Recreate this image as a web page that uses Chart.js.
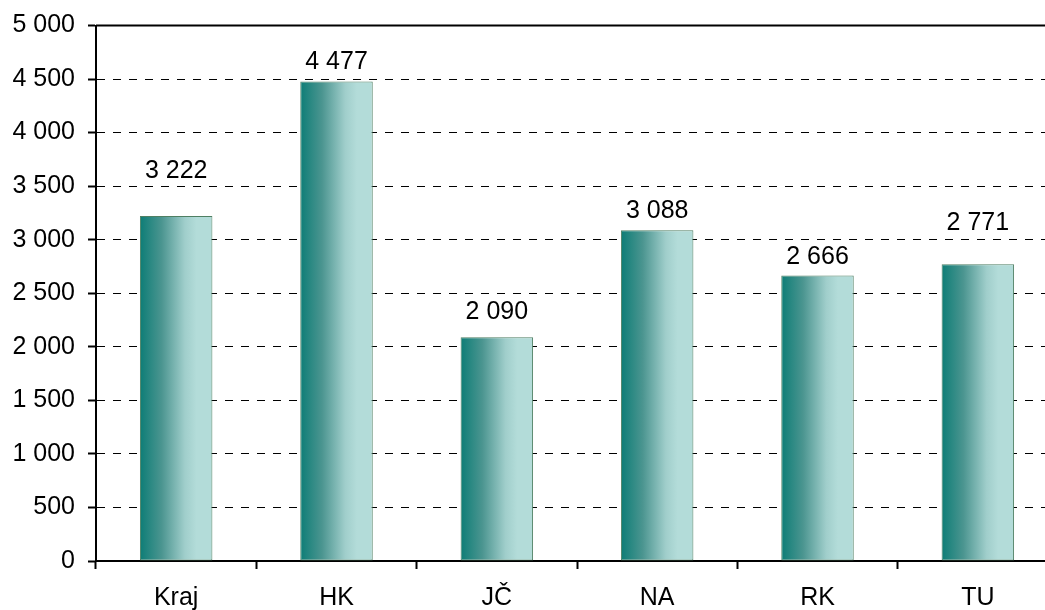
<!DOCTYPE html>
<html lang="cs">
<head>
  <meta charset="UTF-8">
  <title>Kraj a okresy</title>
  <script src="https://cdn.jsdelivr.net/npm/chart.js"></script>
  <style>
    html, body {
      margin: 0;
      padding: 0;
      background: #fff;
      overflow: hidden;
    }
    #wrap {
      width: 1062px;
      height: 610px;
    }
  </style>
</head>
<body>
  <div id="wrap">
    <canvas id="chart"></canvas>
  </div>

  <script>
    // data
    const categories = ['Kraj', 'HK', 'JČ', 'NA', 'RK', 'TU'];
    const values = [3222, 4477, 2090, 3088, 2666, 2771];
    const yTicks = [0, 500, 1000, 1500, 2000, 2500, 3000, 3500, 4000, 4500, 5000];

    // how far each value label sits above its bar (px), labels were placed by hand in the original
    const labelLift = [45, 19, 25, 19, 18, 41];

    const fmt = v => String(v).replace(/\B(?=(\d{3})+(?!\d))/g, ' ');
    const FONT = "'Liberation Sans', Arial, sans-serif";
    const BAR_PCT = 0.452;

    function barGradient(ctx) {
      const chart = ctx.chart;
      const x = chart.scales.x;
      if (!x || !chart.chartArea) return '#5a9e9a';
      const cx = x.getPixelForValue(ctx.dataIndex);
      const half = (chart.chartArea.right - chart.chartArea.left) / categories.length * BAR_PCT / 2;
      const g = chart.ctx.createLinearGradient(cx - half, 0, cx + half, 0);
      g.addColorStop(0, '#0d7d76');
      g.addColorStop(0.3, '#4b9590');
      g.addColorStop(0.62, '#a0cecb');
      g.addColorStop(0.78, '#b3dcd9');
      g.addColorStop(1, '#b3dcd9');
      return g;
    }

    const extras = {
      id: 'extras',
      afterDatasetsDraw(chart) {
        const c = chart.ctx;
        const area = chart.chartArea;
        // solid line at the top value
        const yTop = chart.scales.y.getPixelForValue(5000);
        c.save();
        c.strokeStyle = '#000';
        c.lineWidth = 2;
        c.beginPath();
        c.moveTo(area.left, yTop);
        c.lineTo(area.right, yTop);
        c.stroke();

        // value labels
        c.fillStyle = '#000';
        c.font = '25px ' + FONT;
        c.textAlign = 'center';
        c.textBaseline = 'middle';
        chart.getDatasetMeta(0).data.forEach((bar, i) => {
          c.fillText(fmt(values[i]), bar.x, bar.y - labelLift[i]);
        });
        c.restore();
      }
    };

    new Chart(document.getElementById('chart'), {
      type: 'bar',
      data: {
        labels: categories,
        datasets: [{
          data: values,
          backgroundColor: barGradient,
          borderColor: '#4f7f63',
          borderWidth: 1,
          borderSkipped: false,
          categoryPercentage: 1,
          barPercentage: BAR_PCT
        }]
      },
      options: {
        responsive: true,
        maintainAspectRatio: false,
        animation: false,
        layout: {
          padding: { top: 0, right: 4, left: 0, bottom: 0 }
        },
        plugins: {
          legend: { display: false },
          tooltip: { enabled: false }
        },
        scales: {
          x: {
            afterFit: s => { s.height = 49; },
            grid: {
              offset: true,
              drawOnChartArea: false,
              drawTicks: true,
              tickLength: 8,
              tickColor: '#000',
              tickWidth: 2
            },
            border: { color: '#000', width: 2 },
            ticks: {
              color: '#000',
              padding: 14,
              font: { family: FONT, size: 25 }
            }
          },
          y: {
            min: 0,
            max: 5000,
            afterFit: s => { s.width = 96; },
            afterBuildTicks: axis => {
              axis.ticks = yTicks.map(v => ({ value: v }));
            },
            grid: {
              color: '#000',
              lineWidth: 1,
              drawTicks: true,
              tickLength: 8,
              tickColor: '#000',
              tickWidth: 2,
              tickBorderDash: []
            },
            border: { color: '#000', width: 2, dash: [8, 8] },
            ticks: {
              color: '#000',
              padding: 13,
              font: { family: FONT, size: 25, lineHeight: 1 },
              callback: v => fmt(v)
            }
          }
        }
      },
      plugins: [extras]
    });
  </script>
</body>
</html>
